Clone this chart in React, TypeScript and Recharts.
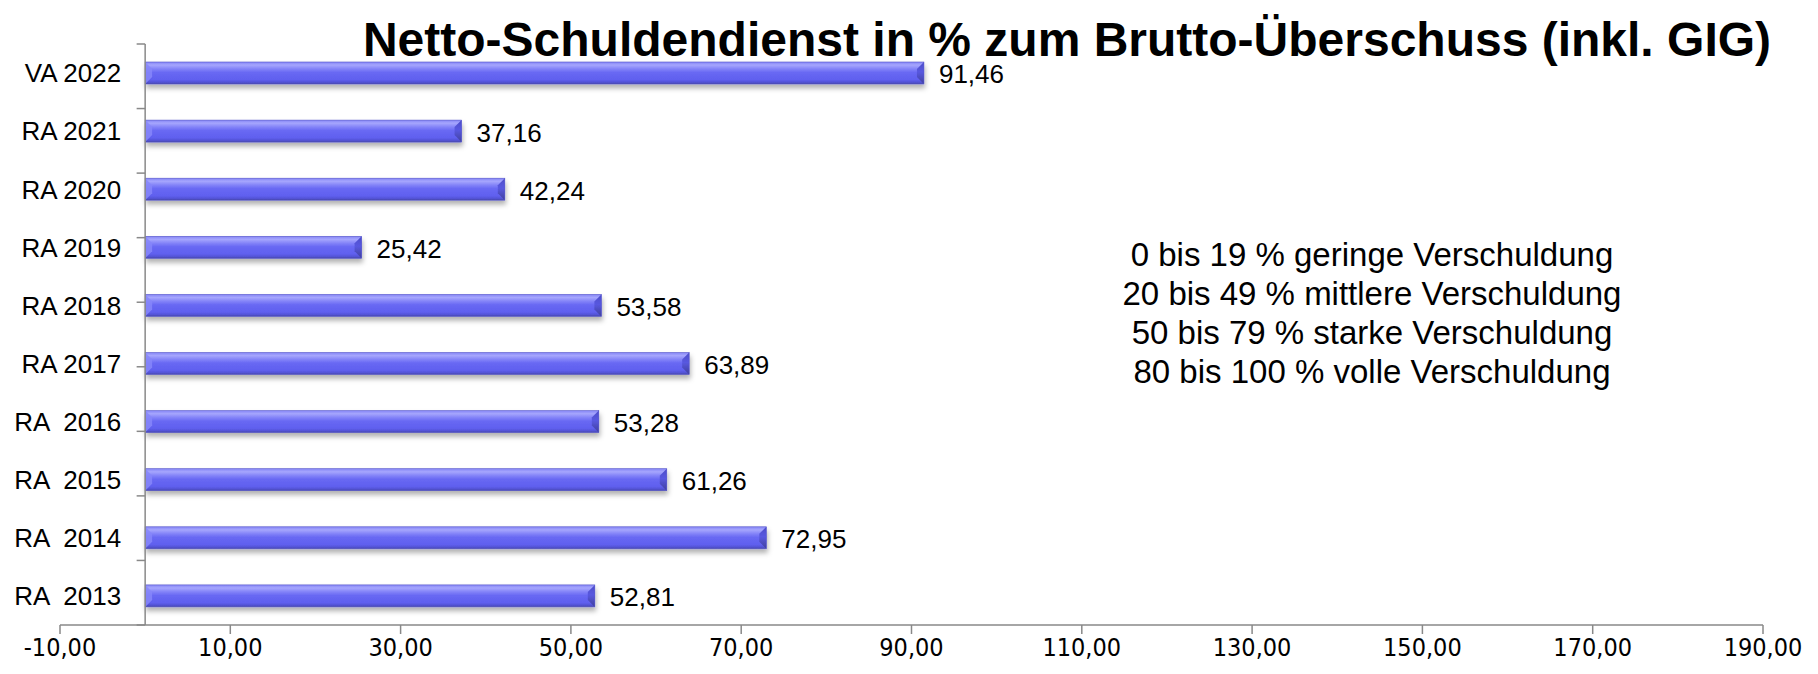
import React from 'react';
import { BarChart, Bar, XAxis, YAxis, ReferenceLine, LabelList } from 'recharts';

// Categories top -> bottom, as in the picture (double spaces kept)
const categories = ['VA 2022', 'RA 2021', 'RA 2020', 'RA 2019', 'RA 2018', 'RA 2017', 'RA  2016', 'RA  2015', 'RA  2014', 'RA  2013'];
const values = [91.46, 37.16, 42.24, 25.42, 53.58, 63.89, 53.28, 61.26, 72.95, 52.81];
const xTicks = [-10, 10, 30, 50, 70, 90, 110, 130, 150, 170, 190];
const bandEdges = [0, 1, 2, 3, 4, 5, 6, 7, 8, 9, 10];
const notes = [
    '0 bis 19 % geringe Verschuldung',
    '20 bis 49 % mittlere Verschuldung',
    '50 bis 79 % starke Verschuldung',
    '80 bis 100 % volle Verschuldung',
];
const title = 'Netto-Schuldendienst in % zum Brutto-Überschuss (inkl. GIG)';

const data = categories.map((name, i) => ({ name, value: values[i] }));

const fmt = (v: number) => v.toFixed(2).replace('.', ',');
const AXIS = '#898989';
const FONT = "'Liberation Sans', Arial, sans-serif";

function BarShape(props: any) {
    const { x, y, width, height } = props;
    if (!width || width <= 0) return null;
    const b = Math.min(7, height * 0.35);
    return (
        <g filter="url(#barShadow)">
            <rect x={x} y={y} width={width} height={height} fill="url(#barGrad)" />
            <polygon points={`${x},${y} ${x + b},${y + b} ${x + b},${y + height - b} ${x},${y + height}`} fill="#8686fa" opacity={0.85} />
            <polygon points={`${x + width},${y} ${x + width - b},${y + b} ${x + width - b},${y + height - b} ${x + width},${y + height}`} fill="url(#endGrad)" />
            <rect x={x} y={y} width={width} height={height} fill="none" stroke="#5656c8" strokeWidth={0.6} />
        </g>
    );
}

function NameLabel(props: any) {
    const { x, y, height, value } = props;
    return (
        <text x={x - 24} y={y + height / 2} dy="0.36em" textAnchor="end" fontSize={26} fontFamily={FONT} fill="#000" style={{ whiteSpace: 'pre' }}>
            {value}
        </text>
    );
}

function ValueLabel(props: any) {
    const { x, y, width, height, value } = props;
    return (
        <text x={x + width + 15} y={y + height / 2} dy="0.4em" fontSize={26} fontFamily={FONT} fill="#000">
            {fmt(value)}
        </text>
    );
}

export default function App() {
    return (
        <div style={{ position: 'relative', width: 1802, height: 658 }}>
            <svg width={0} height={0} style={{ position: 'absolute' }}>
                <defs>
                    <linearGradient id="barGrad" x1="0" y1="0" x2="0" y2="1">
                        <stop offset="0%" stopColor="#8484f6" />
                        <stop offset="14%" stopColor="#a6a6fd" />
                        <stop offset="32%" stopColor="#8282f8" />
                        <stop offset="48%" stopColor="#6868f3" />
                        <stop offset="80%" stopColor="#6060ef" />
                        <stop offset="92%" stopColor="#5353d6" />
                        <stop offset="100%" stopColor="#4848a8" />
                    </linearGradient>
                    <linearGradient id="endGrad" x1="0" y1="0" x2="0" y2="1">
                        <stop offset="0%" stopColor="#4c4cc8" />
                        <stop offset="45%" stopColor="#5858e0" />
                        <stop offset="100%" stopColor="#40409c" />
                    </linearGradient>
                    <filter id="barShadow" x="-5%" y="-30%" width="110%" height="190%">
                        <feDropShadow dx="1" dy="4" stdDeviation="2.5" floodColor="#000" floodOpacity="0.3" />
                    </filter>
                </defs>
            </svg>
            <BarChart
                width={1802}
                height={658}
                data={data}
                layout="vertical"
                margin={{ top: 36, right: 47, left: 52, bottom: 11 }}
                barSize={22}
            >
                <XAxis
                    type="number"
                    domain={[-10, 190]}
                    ticks={xTicks}
                    allowDataOverflow
                    tickFormatter={fmt}
                    stroke={AXIS}
                    strokeWidth={1.5}
                    tickSize={9}
                    tickMargin={4}
                    height={30}
                    tick={{ fill: '#000', fontSize: 25, fontFamily: "'Liberation Sans Narrow', 'Arial Narrow', 'DejaVu Sans Condensed', sans-serif" }}
                />
                <YAxis type="category" dataKey="name" hide />
                <YAxis yAxisId="edges" type="number" domain={[0, 10]} hide />
                <ReferenceLine x={0} stroke={AXIS} strokeWidth={1.5} />
                {bandEdges.map((e) => (
                    <ReferenceLine
                        key={e}
                        yAxisId="edges"
                        segment={[{ x: -1, y: e }, { x: 0, y: e }]}
                        stroke={AXIS}
                        strokeWidth={1.5}
                    />
                ))}
                <Bar dataKey="value" shape={<BarShape />} isAnimationActive={false}>
                    <LabelList dataKey="name" content={<NameLabel />} />
                    <LabelList dataKey="value" content={<ValueLabel />} />
                </Bar>
            </BarChart>
            <svg width={1802} height={658} style={{ position: 'absolute', left: 0, top: 0, pointerEvents: 'none' }}>
                <text x={1059} y={48} textAnchor="middle" fontSize={48} fontWeight="bold" fontFamily={FONT} fill="#000">
                    {title}
                </text>
                {notes.map((n, i) => (
                    <text key={n} x={1364} y={258 + i * 39} textAnchor="middle" fontSize={33} fontFamily={FONT} fill="#000">
                        {n}
                    </text>
                ))}
            </svg>
        </div>
    );
}
